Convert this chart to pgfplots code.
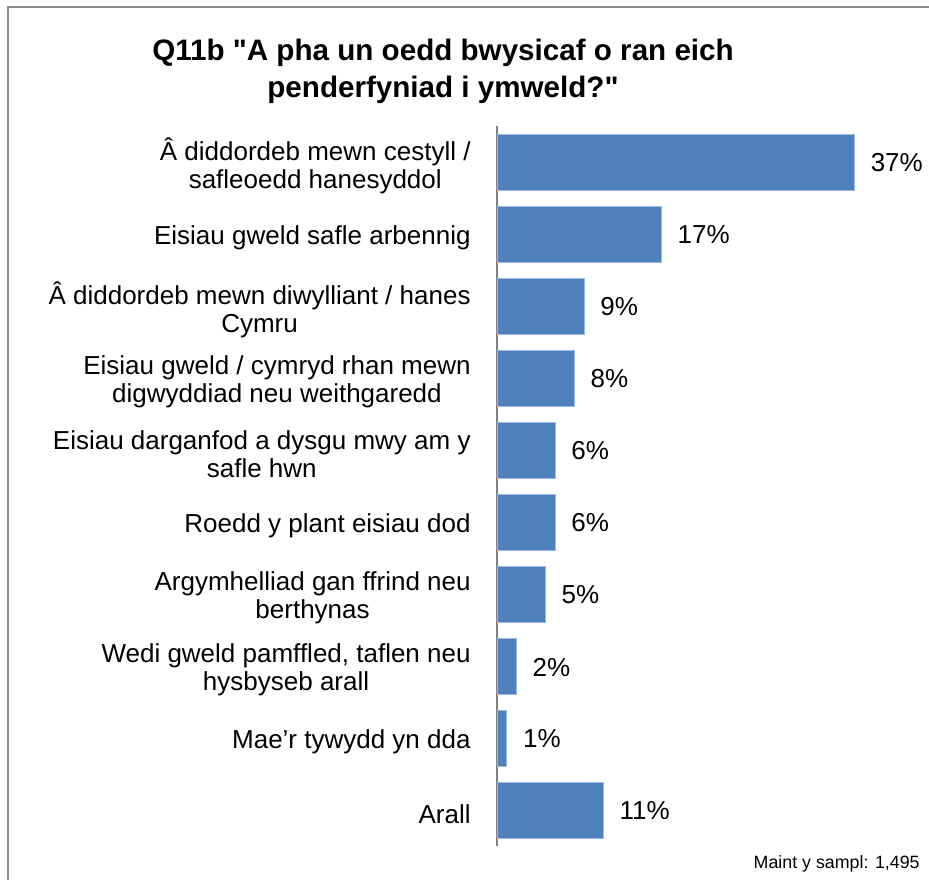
\documentclass[border=0pt]{standalone}
\usepackage{pgfplots}
\pgfplotsset{compat=1.18}
\usepackage{fontspec}
\setmainfont{Liberation Sans}[Ligatures=TeXOff]
\definecolor{barblue}{HTML}{4F81BD}
\definecolor{baredge}{HTML}{9DB9DE}
\definecolor{framegray}{HTML}{8C8C8C}
\begin{document}
\begin{tikzpicture}
\useasboundingbox (0,0) rectangle (464.5pt,439.5pt);
\draw[framegray, line width=0.8pt] (4pt,436pt) rectangle (480pt,-20pt);
\node[font=\fontsize{14.8}{18.5}\selectfont\bfseries, align=center, anchor=center, inner sep=0pt] at (221.5pt,404pt)
  {Q11b "A pha un oedd bwysicaf o ran eich\\penderfyniad i ymweld?"};
\begin{axis}[
  at={(248.5pt,16.5pt)}, anchor=south west,
  scale only axis, width=212.5pt, height=360pt,
  xbar, bar width=28pt, bar shift=0pt,
  xmin=0, xmax=44,
  ymin=0.5, ymax=10.5, y dir=reverse,
  axis x line=none,
  axis y line*=left,
  axis line style={draw=gray, line width=1pt},
  ytick={1,...,10},
  yticklabels={{Â diddordeb mewn cestyll /\\safleoedd hanesyddol},
    {Eisiau gweld safle arbennig},
    {Â diddordeb mewn diwylliant / hanes\\Cymru},
    {Eisiau gweld / cymryd rhan mewn\\digwyddiad neu weithgaredd},
    {Eisiau darganfod a dysgu mwy am y\\safle hwn},
    {Roedd y plant eisiau dod},
    {Argymhelliad gan ffrind neu\\berthynas},
    {Wedi gweld pamffled, taflen neu\\hysbyseb arall},
    {Mae’r tywydd yn dda},
    {Arall}},
  major tick length=0pt,
  yticklabel style={align=center, anchor=east, inner sep=0pt, xshift=-13pt, yshift=-2pt,
    font=\fontsize{13}{14.2}\selectfont},
  /pgf/number format/assume math mode=true,
  nodes near coords={\pgfmathprintnumber{\pgfplotspointmeta}\%},
  point meta=explicit,
  nodes near coords style={anchor=west, inner sep=0pt, xshift=8pt, yshift=-0.5pt,
    font=\fontsize{13}{14}\selectfont, text=black},
  clip=false,
]
\addplot[fill=barblue, draw=baredge, line width=0.4pt] coordinates {
  (37,1) [37] (17,2) [17] (9,3) [9] (8,4) [8] (6,5) [6]
  (6,6) [6] (5,7) [5] (2,8) [2] (1,9) [1] (11,10) [11]};
\end{axis}
\node[font=\fontsize{8.9}{10}\selectfont, anchor=base east, inner sep=0pt] at (460pt,5.5pt) {Maint y sampl: 1,495};
\end{tikzpicture}
\end{document}
